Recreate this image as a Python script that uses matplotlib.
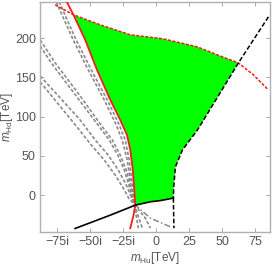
import numpy as np
from matplotlib import pyplot as plt

plt.rcParams['font.family'] = ['Liberation Sans', 'DejaVu Sans']
plt.rcParams['mathtext.fontset'] = 'custom'
plt.rcParams['mathtext.rm'] = 'Liberation Sans'
plt.rcParams['mathtext.it'] = 'Liberation Sans:italic'

# red solid boundary (left edge of the allowed region)
red_x = [-67.4, -62.7, -53.8, -44.9, -34.8, -27.3, -22.2, -19.7, -17.8, -16.7, -15.9, -17.4, -19.7]
red_y = [245.0, 229.7, 197.8, 159.5, 121.2, 95.7, 76.6, 57.4, 31.9, 6.4, -12.8, -26.8, -42.1]

# red dashed upper boundary
top_x = [-76.5, -62.7, -42.4, -19.7, 5.3, 31.1, 46.2, 62.1, 73.5, 84.8]
top_y = [242.4, 229.7, 216.9, 204.2, 199.1, 188.8, 178.6, 168.4, 153.1, 134.0]

# black dashed right boundary
right_x = [84.8, 62.1, 31.1, 19.7, 14.4, 13.1, 12.9]
right_y = [227.1, 168.4, 82.9, 57.4, 35.7, 8.9, -3.8]
vert_x = [12.9, 13.3]
vert_y = [-3.8, -42.1]

# black solid lower boundary
bot_x = [-61.4, -34.8, -15.9, -4.5, 3.0, 12.9]
bot_y = [-42.5, -25.5, -12.8, -8.5, -7.0, -3.8]

# gray dashed curves (pairs)
gray_curves = [
    ([-75.8, -63.6, -52.3, -39.4, -30.3, -25.8, -22.0, -19.7, -18.2, -16.7],
     [246.3, 200.3, 162.1, 121.2, 89.3, 70.2, 44.7, 19.1, 0.0, -11.5]),
    ([-73.5, -61.4, -50.0, -37.1, -28.0, -23.5, -20.5, -18.6, -17.4, -16.7],
     [246.3, 200.3, 162.1, 121.2, 89.3, 70.2, 44.7, 19.1, 0.0, -11.5]),
    ([-87.9, -76.5, -57.6, -42.4, -33.3, -27.3, -22.7, -19.7, -17.4, -16.7],
     [197.8, 168.4, 126.3, 90.6, 70.2, 51.0, 31.9, 12.8, -6.4, -11.5]),
    ([-87.9, -79.5, -60.6, -44.7, -35.6, -29.2, -24.2, -20.8, -17.8, -16.7],
     [190.1, 168.4, 126.3, 90.6, 70.2, 51.0, 31.9, 12.8, -6.4, -11.5]),
    ([-87.9, -72.7, -57.6, -46.2, -36.4, -28.8, -22.7, -18.9, -16.7],
     [151.8, 123.8, 95.7, 70.2, 51.0, 31.9, 12.8, -2.6, -11.5]),
    ([-87.9, -74.2, -60.6, -49.2, -39.4, -31.1, -25.0, -20.5, -16.7],
     [144.2, 116.1, 88.0, 63.8, 44.7, 25.5, 8.9, -5.1, -11.5]),
    ([-16.7, -10.6], [-11.5, -42.1]),
    ([-16.7, -13.6], [-11.5, -42.1]),
    ([-16.7, -8.3, -4.5], [-11.5, -29.3, -42.1]),
]
fan_x = [-16.7, -4.5, 12.1]
fan_y = [-11.5, -29.3, -41.5]

xticks = [-75, -50, -25, 0, 25, 50, 75]
xlabels = ['\u221275i', '\u221250i', '\u221225i', '0', '25', '50', '75']
yticks = [0, 50, 100, 150, 200]

fig = plt.figure(figsize=(2.73, 2.67), dpi=100)
ax = fig.add_axes([40 / 273, 35 / 267, 230 / 273, 230 / 267])

# green allowed region
poly_x = np.concatenate([top_x[1:8], right_x[2:], bot_x[::-1][1:3], red_x[10:0:-1]])
poly_y = np.concatenate([top_y[1:8], right_y[2:], bot_y[::-1][1:3], red_y[10:0:-1]])
ax.fill(poly_x, poly_y, color='#00ff00', lw=0, zorder=1)

for gx, gy in gray_curves:
    ax.plot(gx, gy, color='#8a8a8a', lw=1.2, dashes=(2, 1.2), zorder=2)
ax.plot(fan_x, fan_y, color='#8a8a8a', lw=1.1, dashes=(4, 1.5, 1, 1.5), zorder=2)

ax.plot(red_x, red_y, color='#f01e1e', lw=1.3, zorder=4)
ax.plot(top_x, top_y, color='#f01e1e', lw=1.1, dashes=(2, 1), zorder=4)
ax.plot(right_x, right_y, color='black', lw=1.1, dashes=(3, 1.5), zorder=4)
ax.plot(vert_x, vert_y, color='black', lw=1.1, dashes=(3, 1.5), zorder=4)
ax.plot(bot_x, bot_y, color='black', lw=1.2, zorder=4)

ax.set_xlim(-88, 86)
ax.set_ylim(-47, 246)
ax.set_xticks(xticks)
ax.set_xticklabels(xlabels)
ax.set_yticks(yticks)
ax.tick_params(direction='in', length=3, width=0.6, color='#999999',
               labelcolor='#555555', labelsize=9, top=True, right=True, pad=3)
for s in ax.spines.values():
    s.set_color('#b0b0b0')
    s.set_linewidth(1.0)

ax.set_xlabel(r'$m_{\mathrm{Hu}}$[TeV]', fontsize=8.5, color='#555555', labelpad=1)
ax.set_ylabel(r'$m_{\mathrm{Hd}}$[TeV]', fontsize=8.5, color='#555555', labelpad=0)

plt.savefig('out.png', dpi=100)
